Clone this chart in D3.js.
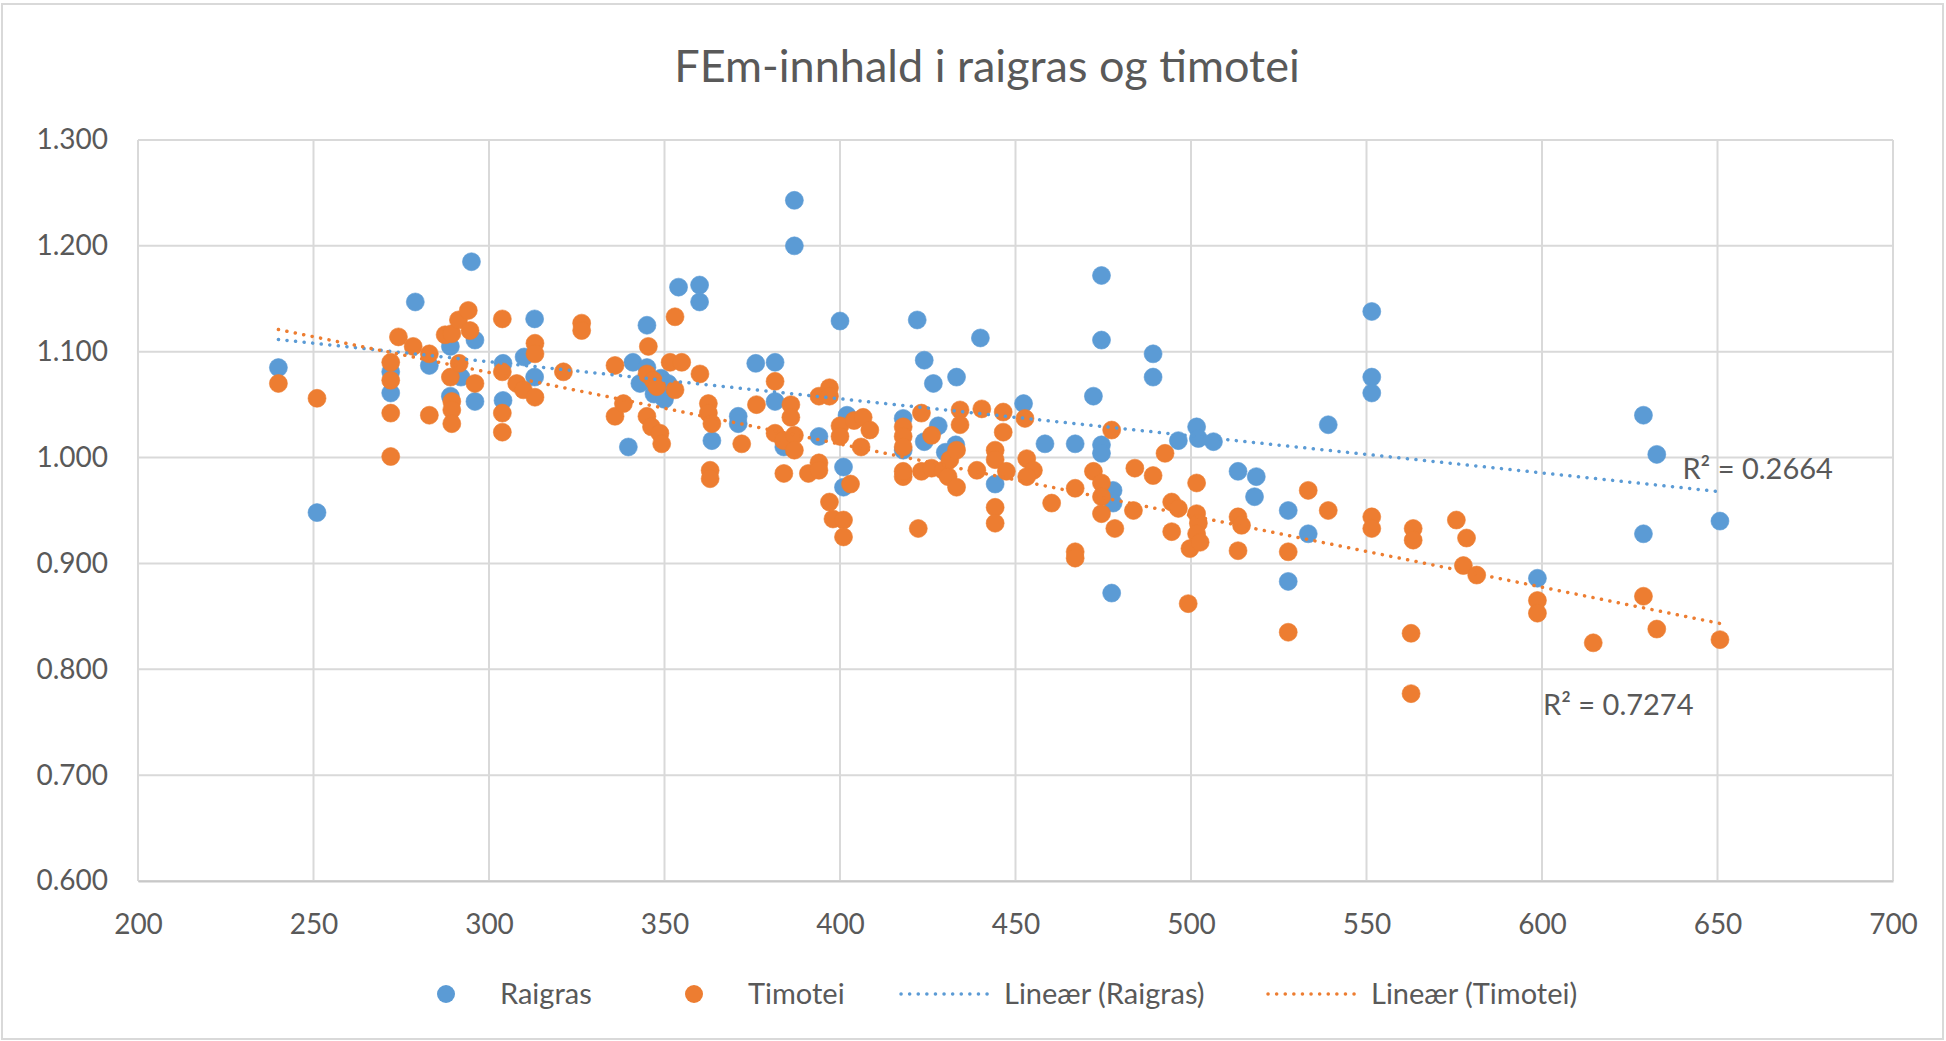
<!DOCTYPE html>
<html>
<head>
<meta charset="utf-8">
<script src="https://cdn.jsdelivr.net/npm/d3@7"></script>
<style>
  body { margin: 0; background: #fff; }
  svg { display: block; font-family: Lato, "Open Sans", sans-serif; }
</style>
</head>
<body>
<svg id="chart" width="1946" height="1041"></svg>
<script>
const title = "FEm-innhald i raigras og timotei";
const xTicks = [200, 250, 300, 350, 400, 450, 500, 550, 600, 650, 700];
const yTicks = [0.6, 0.7, 0.8, 0.9, 1.0, 1.1, 1.2, 1.3];

// [x, FEm]
const raigras = [
  [240,1.085],[251,0.948],[272,1.081],[272,1.061],[279,1.147],[283,1.087],[289,1.105],
  [289,1.058],[292,1.076],[295,1.185],[296,1.111],[296,1.053],[304,1.089],[304,1.054],[310,1.095],
  [313,1.131],[313,1.076],[339.7,1.01],[341,1.09],[343,1.07],[345,1.125],[345,1.085],[347,1.06],
  [349,1.075],[350,1.055],[351,1.07],[354,1.161],[360,1.163],[360,1.147],[363.5,1.016],[371,1.039],
  [371,1.032],[376,1.089],[381.5,1.09],[381.5,1.053],[384,1.01],[387,1.243],[387,1.2],[394,1.02],
  [400,1.129],[401,0.991],[401,0.972],[402,1.04],[418,1.037],[418,1.007],[422,1.13],[424,1.092],
  [426.6,1.07],[424,1.015],[428,1.03],[430,1.005],[433.2,1.076],[433,1.012],[440,1.113],[444.2,0.975],
  [452.3,1.051],[458.4,1.013],[467,1.013],[472.2,1.058],[474.5,1.172],[474.5,1.111],[474.5,1.012],
  [474.5,1.004],[477.8,0.969],[477.8,0.957],[477.4,0.872],[489.2,1.098],[489.2,1.076],[496.4,1.016],
  [501.6,1.029],[502.1,1.018],[506.4,1.015],[513.4,0.987],[518.6,0.982],[518.1,0.963],[527.7,0.95],
  [527.7,0.883],[533.4,0.928],[539.1,1.031],[551.5,1.138],[551.5,1.076],[551.5,1.061],[598.7,0.886],
  [628.9,1.04],[628.9,0.928],[632.7,1.003],[650.7,0.94]
];

const timotei = [
  [240,1.07],[251,1.056],[272,1.09],[272,1.073],[272,1.042],[272,1.001],[274.2,1.114],[278.4,1.105],
  [283,1.098],[283,1.04],[287.5,1.116],[289.4,1.117],[289,1.076],[289.4,1.053],[289.4,1.045],[289.4,1.032],
  [291.3,1.13],[291.5,1.089],[294.1,1.139],[294.6,1.12],[296,1.07],[303.8,1.131],[303.8,1.081],[303.8,1.042],
  [303.8,1.024],[307.9,1.07],[309.8,1.064],[313.1,1.108],[313.1,1.098],[313.1,1.057],[321.2,1.081],[326.4,1.127],
  [326.4,1.12],[335.9,1.087],[335.9,1.039],[338.3,1.051],[345.4,1.105],[345,1.079],[346.8,1.073],[347.8,1.067],
  [345,1.039],[346.3,1.029],[348.7,1.023],[349.2,1.013],[351.6,1.09],[353,1.133],[353,1.064],[354.9,1.09],
  [360.1,1.079],[362.5,1.051],[362.5,1.042],[363.5,1.032],[363,0.988],[363,0.98],[372,1.013],[376.2,1.05],
  [381.5,1.072],[381.5,1.023],[383.9,1.016],[384,0.985],[386,1.05],[386,1.038],[387,1.021],[387,1.007],
  [391,0.985],[394,1.058],[394,0.995],[394,0.988],[397,1.066],[397,1.058],[397,0.958],[398,0.942],
  [400,1.03],[400,1.02],[401,0.941],[401,0.925],[403,0.975],[404,1.035],[406.6,1.038],[406,1.01],
  [408.5,1.026],[418,1.029],[418,1.02],[418,1.01],[418,0.982],[418,0.987],[422.3,0.933],[423.2,1.042],
  [423.2,0.987],[426.1,1.021],[426.1,0.99],[429.4,0.988],[430.8,0.982],[431.3,0.998],[433.2,1.007],[433.2,0.972],
  [434.2,1.045],[434.2,1.031],[439,0.988],[440.4,1.046],[444.2,1.007],[444.2,0.998],[444.2,0.953],[444.2,0.938],
  [446.5,1.043],[446.5,1.024],[447.4,0.987],[452.7,1.037],[453.2,0.999],[455.1,0.988],[453.2,0.982],[460.3,0.957],
  [467,0.971],[467,0.911],[467,0.905],[472.2,0.987],[474.5,0.976],[474.5,0.963],[474.5,0.947],[477.4,1.026],
  [478.3,0.933],[483.6,0.95],[484,0.99],[489.2,0.983],[492.6,1.004],[494.5,0.958],[496.4,0.952],[494.5,0.93],
  [499.7,0.914],[499.2,0.862],[501.6,0.976],[501.6,0.947],[502.1,0.938],[501.6,0.928],[502.6,0.92],[513.4,0.944],
  [514.4,0.936],[513.4,0.912],[527.7,0.911],[527.7,0.835],[533.4,0.969],[539.1,0.95],[551.5,0.944],[551.5,0.933],
  [562.7,0.834],[562.7,0.777],[563.3,0.933],[563.3,0.922],[575.6,0.941],[578.5,0.924],[577.6,0.898],[581.4,0.889],
  [598.7,0.865],[598.7,0.853],[614.6,0.825],[628.9,0.869],[632.7,0.838],[650.7,0.828]
];

const rSquared = [
  { text: "R² = 0.2664", x: 640, y: 0.989 },
  { text: "R² = 0.7274", x: 600.3, y: 0.766 }
];

const blue = "#5b9bd5", orange = "#ed7d31", textCol = "#595959", gridCol = "#d9d9d9";

const svg = d3.select("#chart");
const margin = { left: 138, right: 1946 - 1893, top: 140, bottom: 1041 - 881 };
const width = 1946 - margin.left - margin.right;
const height = 1041 - margin.top - margin.bottom;

// chart border
svg.append("rect")
    .attr("x", 2).attr("y", 4)
    .attr("width", 1941).attr("height", 1035)
    .attr("fill", "none").attr("stroke", gridCol).attr("stroke-width", 2);

svg.append("text")
    .attr("x", 987).attr("y", 82)
    .attr("text-anchor", "middle")
    .attr("font-size", 45)
    .attr("fill", textCol)
    .text(title);

const g = svg.append("g").attr("transform", `translate(${margin.left},${margin.top})`);

const x = d3.scaleLinear().domain([200, 700]).range([0, width]);
const y = d3.scaleLinear().domain([0.6, 1.3]).range([height, 0]);

// gridlines
g.append("g").selectAll("line").data(xTicks).join("line")
    .attr("x1", d => x(d)).attr("x2", d => x(d))
    .attr("y1", 0).attr("y2", height)
    .attr("stroke", gridCol).attr("stroke-width", 2);

g.append("g").selectAll("line").data(yTicks).join("line")
    .attr("x1", 0).attr("x2", width)
    .attr("y1", d => y(d)).attr("y2", d => y(d))
    .attr("stroke", gridCol).attr("stroke-width", 2);

const xAxis = g.append("g")
    .attr("transform", `translate(0,${height})`)
    .call(d3.axisBottom(x).tickValues(xTicks).tickSize(0).tickPadding(33));
xAxis.select(".domain").attr("stroke", "#c8c8c8").attr("stroke-width", 2);

const yAxis = g.append("g")
    .call(d3.axisLeft(y).tickValues(yTicks).tickFormat(d3.format(".3f")).tickSize(0).tickPadding(30));
yAxis.select(".domain").remove();

svg.selectAll(".tick text")
    .attr("font-size", 28)
    .attr("fill", textCol)
    .attr("font-family", "Lato, sans-serif");

// trendlines from least squares
function fit(data) {
    const mx = d3.mean(data, d => d[0]);
    const my = d3.mean(data, d => d[1]);
    const sxy = d3.sum(data, d => (d[0] - mx) * (d[1] - my));
    const sxx = d3.sum(data, d => (d[0] - mx) ** 2);
    const b = sxy / sxx;
    const a = my - b * mx;
    const [x0, x1] = d3.extent(data, d => d[0]);
    return [[x0, a + b * x0], [x1, a + b * x1]];
}

const line = d3.line().x(d => x(d[0])).y(d => y(d[1]));

function drawDots(data, color) {
    g.append("g").selectAll("circle").data(data).join("circle")
        .attr("cx", d => x(d[0]))
        .attr("cy", d => y(d[1]))
        .attr("r", 9)
        .attr("fill", color)
        .attr("stroke", color)
        .attr("stroke-opacity", 0.6)
        .attr("stroke-width", 1);
}

drawDots(raigras, blue);
drawDots(timotei, orange);

[[raigras, blue], [timotei, orange]].forEach(([data, color]) => {
    g.append("path")
        .datum(fit(data))
        .attr("d", line)
        .attr("fill", "none")
        .attr("stroke", color)
        .attr("stroke-width", 3.5)
        .attr("stroke-linecap", "round")
        .attr("stroke-dasharray", "0.1 8.5");
});

g.selectAll(".r2").data(rSquared).join("text")
    .attr("class", "r2")
    .attr("x", d => x(d.x))
    .attr("y", d => y(d.y))
    .attr("dy", "0.35em")
    .attr("font-size", 29)
    .attr("fill", textCol)
    .text(d => d.text);

// legend
const legendY = 994;
const legend = svg.append("g");
const items = [
    { label: "Raigras", color: blue, type: "dot", x: 446 },
    { label: "Timotei", color: orange, type: "dot", x: 694 },
    { label: "Lineær (Raigras)", color: blue, type: "line", x: 901 },
    { label: "Lineær (Timotei)", color: orange, type: "line", x: 1268 }
];
items.forEach(it => {
    if (it.type === "dot") {
        legend.append("circle")
            .attr("cx", it.x).attr("cy", legendY).attr("r", 9)
            .attr("fill", it.color);
        legend.append("text")
            .attr("x", it.x + 54).attr("y", legendY).attr("dy", "0.35em")
            .attr("font-size", 29).attr("fill", textCol).text(it.label);
    } else {
        legend.append("line")
            .attr("x1", it.x).attr("x2", it.x + 87)
            .attr("y1", legendY).attr("y2", legendY)
            .attr("stroke", it.color).attr("stroke-width", 3.5)
            .attr("stroke-linecap", "round")
            .attr("stroke-dasharray", "0.1 8.5");
        legend.append("text")
            .attr("x", it.x + 103).attr("y", legendY).attr("dy", "0.35em")
            .attr("font-size", 29).attr("fill", textCol).text(it.label);
    }
});
</script>
</body>
</html>
